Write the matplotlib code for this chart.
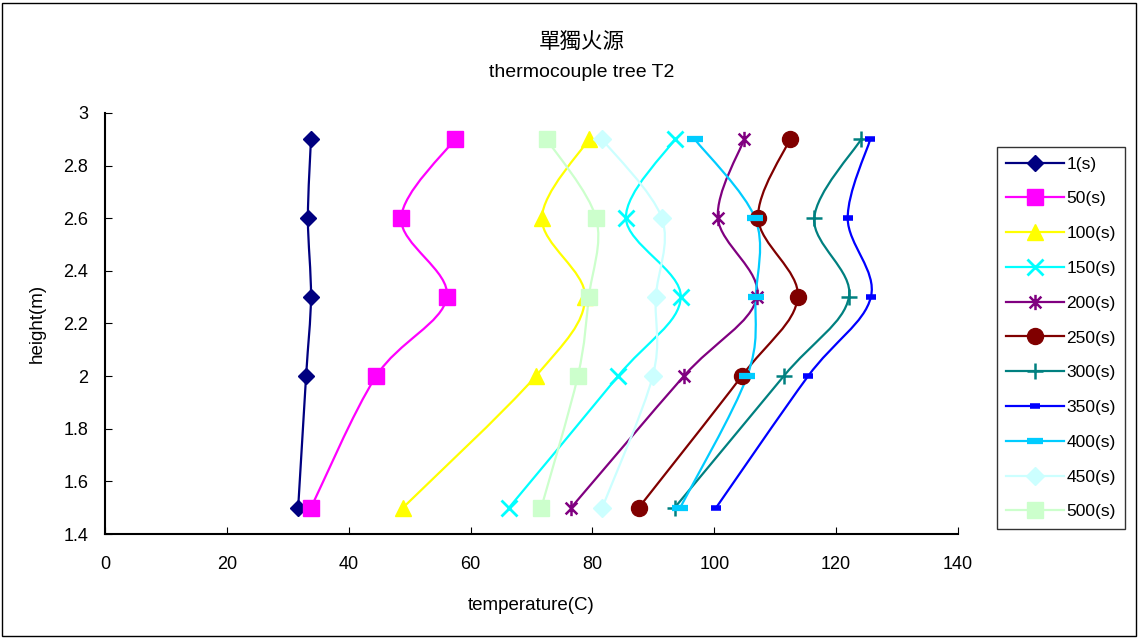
import numpy as np
import matplotlib.pyplot as plt
from matplotlib.path import Path
from matplotlib.patches import PathPatch, Rectangle
from matplotlib.lines import Line2D

plt.rcParams['font.family'] = ['Liberation Sans', 'Noto Sans CJK TC', 'DejaVu Sans']

heights = [1.5, 2.0, 2.3, 2.6, 2.9]
labels = ['1(s)', '50(s)', '100(s)', '150(s)', '200(s)', '250(s)',
          '300(s)', '350(s)', '400(s)', '450(s)', '500(s)']
t1 = [31.7, 33.0, 33.8, 33.3, 33.8]
t50 = [33.8, 44.5, 56.1, 48.6, 57.4]
t100 = [48.9, 70.7, 78.8, 71.7, 79.4]
t150 = [66.3, 84.2, 94.5, 85.5, 93.5]
t200 = [76.5, 95.0, 107.0, 100.6, 104.9]
t250 = [87.6, 104.5, 113.7, 107.2, 112.4]
t300 = [93.5, 111.4, 122.1, 116.4, 124.1]
t350 = [100.3, 115.4, 125.7, 121.9, 125.6]
t400 = [94.4, 105.4, 106.8, 106.7, 96.8]
t450 = [81.6, 89.9, 90.4, 91.4, 81.6]
t500 = [71.6, 77.6, 79.4, 80.6, 72.5]
temps = [t1, t50, t100, t150, t200, t250, t300, t350, t400, t450, t500]

colors = ['#000080', '#FF00FF', '#FFFF00', '#00FFFF', '#800080', '#800000',
          '#008080', '#0000FF', '#00CCFF', '#CCFFFF', '#CCFFCC']

# asterisk marker: x with a vertical bar
star = Path([(-1, -1), (1, 1), (-1, 1), (1, -1), (0, -1.3), (0, 1.3)],
            [Path.MOVETO, Path.LINETO] * 3)
styles = [
    dict(marker='D', ms=8.5),
    dict(marker='s', ms=11),
    dict(marker='^', ms=11),
    dict(marker='x', ms=11, mew=2),
    dict(marker=star, ms=11, mew=1.8),
    dict(marker='o', ms=11.5),
    dict(marker='+', ms=12, mew=1.8),
    dict(marker='_', ms=7, mew=4),
    dict(marker='_', ms=12, mew=4.5),
    dict(marker='D', ms=9),
    dict(marker='s', ms=11),
]


def smooth_path(xs, ys):
    # Bezier path through the points (Catmull-Rom control points)
    pts = np.column_stack([xs, ys])
    ext = np.vstack([pts[0], pts, pts[-1]])
    verts = [pts[0]]
    codes = [Path.MOVETO]
    for i in range(len(pts) - 1):
        p0, p1, p2, p3 = ext[i], ext[i + 1], ext[i + 2], ext[i + 3]
        verts += [p1 + (p2 - p0) / 6, p2 - (p3 - p1) / 6, p2]
        codes += [Path.CURVE4] * 3
    return Path(verts, codes)


fig = plt.figure(figsize=(11.38, 6.39), dpi=100)
ax = fig.add_axes([0.0923, 0.1643, 0.7495, 0.6589])

handles = []
for lab, t, c, st in zip(labels, temps, colors, styles):
    ax.add_patch(PathPatch(smooth_path(t, heights), facecolor='none',
                           edgecolor=c, lw=1.6))
    ax.plot(t, heights, linestyle='None', color=c, mfc=c, mec=c, **st)
    handles.append(Line2D([], [], color=c, lw=1.6, mfc=c, mec=c, **st))

ax.set_xlim(0, 140)
ax.set_ylim(1.4, 3.0)
ax.set_xticks(np.arange(0, 141, 20))
ax.set_yticks(np.round(np.arange(1.4, 3.01, 0.2), 1))
ax.set_yticklabels(['1.4', '1.6', '1.8', '2', '2.2', '2.4', '2.6', '2.8', '3'])
for s in ['top', 'right']:
    ax.spines[s].set_visible(False)
for s in ['left', 'bottom']:
    ax.spines[s].set_linewidth(1.5)
ax.tick_params(direction='in', length=5, width=0.8, labelsize=13)
ax.tick_params(axis='x', pad=16)
ax.tick_params(axis='y', pad=12)
ax.set_xlabel('temperature(C)', fontsize=13.5, va='center')
ax.set_ylabel('height(m)', fontsize=13.5, va='center')
ax.xaxis.set_label_coords(0.5, -0.169)
ax.yaxis.set_label_coords(-0.0797, 0.5)

fig.text(0.5115, 0.934, '單獨火源', ha='center', va='center', fontsize=15.5)
fig.text(0.5115, 0.887, 'thermocouple tree T2', ha='center', va='center',
         fontsize=14)

leg = fig.legend(handles=handles, labels=labels, loc='upper left',
                 bbox_to_anchor=(0.876, 0.77), fontsize=12.5, frameon=True,
                 fancybox=False, edgecolor='black', handlelength=3.3,
                 labelspacing=1.13, borderpad=0.55, handletextpad=0.15,
                 borderaxespad=0)
leg.get_frame().set_linewidth(1)

fig.add_artist(Rectangle((0.002, 0.004), 0.996, 0.992, transform=fig.transFigure,
                         fill=False, edgecolor='black', lw=1))

fig.savefig('out.png', dpi=100)
